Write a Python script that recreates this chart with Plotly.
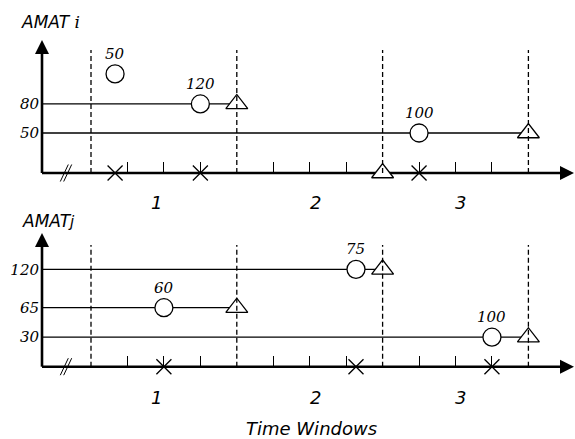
import plotly.graph_objects as go

W, H = 575, 439

# ---------------- data ----------------
window_names = ["1", "2", "3"]
window_bounds = [0, 4, 8, 12]
minor_ticks = [1, 2, 3, 5, 6, 7, 9, 10, 11]
window_label_t = [1.81, 6.17, 10.15]

# panel i (top)
i_levels = ["80", "50"]
i_level_rows = [2.34, 1.356]
i_level_ends = [4, 12]
i_circle_t = [0.66, 3, 9]
i_circle_rows = [3.36, 2.34, 1.356]
i_circle_labels = ["50", "120", "100"]
i_triangle_t = [4, 12, 8]
i_triangle_rows = [2.34, 1.356, 0]
i_cross_t = [0.66, 3, 9]

# panel j (bottom)
j_levels = ["120", "65", "30"]
j_level_rows = [3.3, 2.0, 1.0]
j_level_ends = [8, 4, 12]
j_circle_t = [2, 7.27, 11]
j_circle_rows = [2.0, 3.3, 1.0]
j_circle_labels = ["60", "75", "100"]
j_triangle_t = [4, 8, 12]
j_triangle_rows = [2.0, 3.3, 1.0]
j_cross_t = [2, 7.27, 11]

# ---------------- layout geometry ----------------
PX_T = 36.45      # pixels per time tick
T0_PX = 91        # pixel of t = 0
PX_ROW = 29.5     # pixels per row unit
AXIS_PX = 42
SPLIT_PX = 215
x_range = [(0 - T0_PX) / PX_T, (W - T0_PX) / PX_T]
t_axis = (AXIS_PX - T0_PX) / PX_T
t_tip = (574 - T0_PX) / PX_T

panels = [
    dict(xa="x", ya="y", base_px=173, top_px=40, dash_top_px=50,
         levels=i_levels, rows=i_level_rows, ends=i_level_ends,
         ct=i_circle_t, cr=i_circle_rows, cl=i_circle_labels,
         tt=i_triangle_t, tr=i_triangle_rows, xt=i_cross_t,
         title="<i>AMAT </i><span style='font-family:DejaVu Serif'><i>i</i></span>",
         title_px=(50, 22), lab_px=202),
    dict(xa="x2", ya="y2", base_px=366.7, top_px=233, dash_top_px=245,
         levels=j_levels, rows=j_level_rows, ends=j_level_ends,
         ct=j_circle_t, cr=j_circle_rows, cl=j_circle_labels,
         tt=j_triangle_t, tr=j_triangle_rows, xt=j_cross_t,
         title="<i>AMAT</i><span style='font-size:15px'><i>j</i></span>",
         title_px=(48, 221), lab_px=397),
]

fig = go.Figure()
annotations = []
LW = 1.3
BLACK = "black"

for p in panels:
    xa, ya = p["xa"], p["ya"]
    y_tip = (p["base_px"] - p["top_px"]) / PX_ROW
    y_dash = (p["base_px"] - p["dash_top_px"]) / PX_ROW
    common = dict(xaxis=xa, yaxis=ya, showlegend=False, hoverinfo="skip", cliponaxis=False)

    # threshold lines
    xs, ys = [], []
    for r, e in zip(p["rows"], p["ends"]):
        xs += [t_axis, e, None]
        ys += [r, r, None]
    fig.add_trace(go.Scatter(x=xs, y=ys, mode="lines", line=dict(color=BLACK, width=LW), **common))

    # axis lines
    fig.add_trace(go.Scatter(x=[t_axis, t_axis, None, t_axis, t_tip - 10 / PX_T],
                             y=[y_tip - 10 / PX_ROW, 0, None, 0, 0],
                             mode="lines", line=dict(color=BLACK, width=2.6), **common))
    # arrow heads
    fig.add_trace(go.Scatter(x=[t_axis], y=[y_tip], mode="markers",
                             marker=dict(symbol="arrow-up", size=14, color=BLACK, line=dict(width=0)), **common))
    fig.add_trace(go.Scatter(x=[t_tip], y=[0], mode="markers",
                             marker=dict(symbol="arrow-right", size=14, color=BLACK, line=dict(width=0)), **common))

    # axis break "//"
    cx = (66 - T0_PX) / PX_T
    hx, hy = [], []
    for d in (-1.7, 1.7):
        hx += [cx + (d - 4) / PX_T, cx + (d + 4) / PX_T, None]
        hy += [-8.5 / PX_ROW, 8.5 / PX_ROW, None]
    fig.add_trace(go.Scatter(x=hx, y=hy, mode="lines", line=dict(color=BLACK, width=1), **common))

    # circles
    fig.add_trace(go.Scatter(x=p["ct"], y=p["cr"], mode="markers",
                             marker=dict(symbol="circle", size=18, color="white",
                                         line=dict(color=BLACK, width=LW)), **common))
    # triangles
    fig.add_trace(go.Scatter(x=p["tt"], y=p["tr"], mode="markers",
                             marker=dict(symbol="triangle-up", size=19, color="white",
                                         line=dict(color=BLACK, width=LW)), **common))
    # crosses
    fig.add_trace(go.Scatter(x=p["xt"], y=[0] * len(p["xt"]), mode="markers",
                             marker=dict(symbol="x-thin-open", size=15, color=BLACK,
                                         line=dict(color=BLACK, width=LW)), **common))
    # window boundaries
    dx, dy = [], []
    for b in window_bounds:
        dx += [b, b, None]
        dy += [0, y_dash, None]
    fig.add_trace(go.Scatter(x=dx, y=dy, mode="lines",
                             line=dict(color=BLACK, width=LW, dash="5px,3px"), **common))

    # circle value labels
    for t, r, lab in zip(p["ct"], p["cr"], p["cl"]):
        annotations.append(dict(x=t, y=r, xref=xa, yref=ya, text=lab, showarrow=False,
                                xanchor="center", yanchor="middle", yshift=20,
                                font=dict(family="DejaVu Serif", size=15, style="italic", color=BLACK)))
    # window labels
    lab_y = (p["base_px"] - p["lab_px"]) / PX_ROW
    for t, name in zip(window_label_t, window_names):
        annotations.append(dict(x=t, y=lab_y, xref=xa, yref=ya, text=name, showarrow=False,
                                xanchor="center", yanchor="middle",
                                font=dict(family="DejaVu Sans", size=18, style="italic", color=BLACK)))
    # panel title
    annotations.append(dict(x=p["title_px"][0] / W, y=1 - p["title_px"][1] / H, xref="paper", yref="paper",
                            text=p["title"], showarrow=False, xanchor="center", yanchor="middle",
                            font=dict(family="DejaVu Sans", size=17, color=BLACK)))

annotations.append(dict(x=311 / W, y=1 - 428 / H, xref="paper", yref="paper", text="<i>Time Windows</i>",
                        showarrow=False, xanchor="center", yanchor="middle",
                        font=dict(family="DejaVu Sans", size=18, color=BLACK)))

split = (H - SPLIT_PX) / H

def xaxis_cfg(base_px):
    return dict(range=x_range, domain=[0, 1], anchor="free", position=(H - base_px) / H,
                showline=False, showgrid=False, zeroline=False, ticks="inside",
                tickvals=minor_ticks, ticklen=11, tickwidth=LW, tickcolor=BLACK,
                showticklabels=False, fixedrange=True)

def yaxis_cfg(p, dom):
    lo_px, hi_px = H * (1 - dom[0]), H * (1 - dom[1])
    rng = [(p["base_px"] - lo_px) / PX_ROW, (p["base_px"] - hi_px) / PX_ROW]
    return dict(range=rng, domain=dom, anchor="free", position=AXIS_PX / W,
                showline=False, showgrid=False, zeroline=False, ticks="",
                tickvals=p["rows"], ticktext=p["levels"], ticklabelstandoff=3,
                tickfont=dict(family="DejaVu Serif", size=15, style="italic", color=BLACK),
                fixedrange=True)

fig.update_layout(
    width=W, height=H,
    margin=dict(l=0, r=0, t=0, b=0),
    paper_bgcolor="white", plot_bgcolor="white",
    xaxis=xaxis_cfg(panels[0]["base_px"]),
    xaxis2=xaxis_cfg(panels[1]["base_px"]),
    yaxis=yaxis_cfg(panels[0], [split, 1]),
    yaxis2=yaxis_cfg(panels[1], [0, split]),
    annotations=annotations,
)

fig.write_html("out.html")
